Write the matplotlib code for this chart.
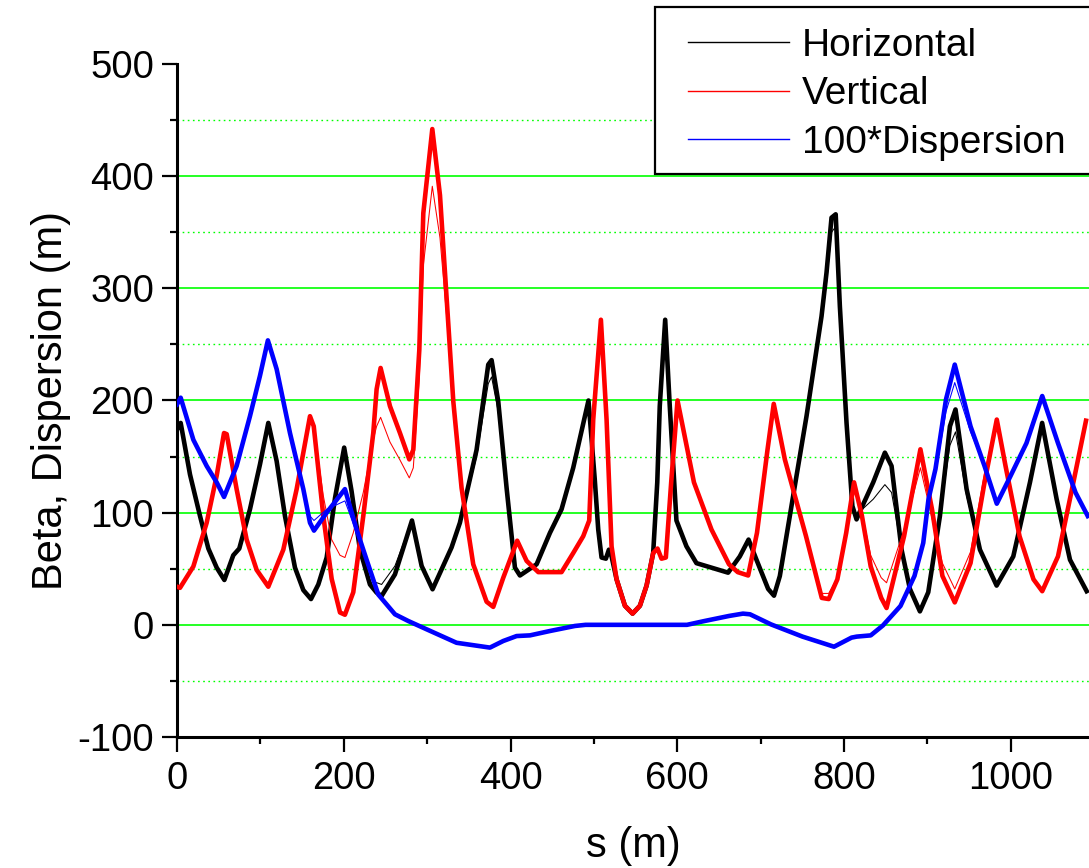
import matplotlib
matplotlib.use("Agg")
import matplotlib.pyplot as plt
from matplotlib.patches import Rectangle
from matplotlib.lines import Line2D

plt.rcParams['font.family'] = ['Liberation Sans', 'DejaVu Sans']
plt.rcParams['axes.unicode_minus'] = False

# ---------------- data ----------------
s_h = [0, 4.4, 15.6, 27.6, 37.6, 47.6, 56.8, 67.5, 74.7, 87.5, 99.5, 109.5, 119.5, 129.5,
       141.5, 151.5, 160.7, 169.5, 179.5, 189.5, 200.5, 209.4, 219.4, 231.4, 239.4, 245.4,
       261.4, 281.8, 293.4, 306.5, 329.3, 339.3, 359.3, 373.3, 377.3, 385.3, 395.3, 405.3,
       411.3, 431.3, 447.3, 461.2, 475.2, 493.5, 501, 505.2, 509.2, 514.4, 518, 521.2, 527.2,
       537.2, 546.4, 555.2, 563.2, 571.1, 576, 579, 585.5, 591, 599, 611, 623, 661, 675,
       685.5, 695, 709, 716, 723, 739, 755, 773, 779, 785, 790, 795, 803, 810, 815, 819, 835,
       849, 857, 869, 879, 891, 901, 915, 927, 933.7, 947, 963, 983, 1003, 1023, 1037.6,
       1055, 1071, 1091]
beta_x1 = [174, 180, 134, 97, 68, 51, 40, 62, 68, 103, 143, 180, 146, 97,
           51, 31, 23, 36, 60, 113, 158, 119, 67, 36, 28.7, 25.7,
           45, 93, 52.5, 31.7, 69, 91, 156, 232, 236, 199, 122, 51,
           44, 54, 82, 103, 140, 200, 130, 85, 60, 59, 67, 61, 40.6,
           17, 10, 17, 35, 64, 127, 195, 272, 195, 93, 70, 55, 46.5, 61,
           76, 58, 32, 26, 43.5, 115, 186, 275, 314, 363, 366, 284, 180, 106, 94, 101, 127,
           153.5, 141.6, 67, 32, 12, 29, 97, 177, 192, 121, 67, 35, 61, 127, 180,
           112, 58, 30]
beta_x2 = [174, 180, 134, 97, 68, 51, 40, 62, 68, 103, 143, 180, 146, 97,
           51, 31, 23, 36, 60, 113, 158, 119, 67, 38, 37.6, 36,
           52.5, 93, 52.5, 31.7, 69, 91, 150, 215, 221, 190, 122, 51,
           44, 54, 82, 103, 140, 200, 130, 85, 60, 59, 67, 61, 40.6,
           17, 10, 17, 35, 64, 127, 195, 272, 195, 93, 70, 55, 46.5, 61,
           76, 58, 32, 26, 43.5, 115, 186, 270, 305, 350, 355, 280, 180, 106, 94, 101, 112,
           125, 118, 67, 32, 12, 29, 97, 160, 172, 115, 67, 35, 61, 127, 180,
           112, 58, 30]

s_v = [0, 3.6, 19.6, 35.6, 47.6, 56.4, 59.6, 71.5, 83.5, 95.5, 109.5, 127.5, 143.5, 159.5,
       164, 175.5, 185.5, 195.5, 201.4, 211.4, 223.4, 235.4, 239.4, 244.2, 255.4, 267.4,
       278.6, 283.4, 290.6, 295.4, 306.2, 315.4, 323.4, 331.4, 341.3, 355.3, 371.3, 379.3,
       391.3, 408, 419.3, 433.3, 461.2, 475.2, 487.2, 494.4, 499.2, 508.4, 515.2, 521.2,
       527.2, 537.2, 546.4, 555.2, 563.2, 571.1, 576.3, 581.1, 586.3, 592.7, 600.3, 620,
       641, 662, 672.5, 685, 695.6, 708.2, 715.7, 729, 754.4, 773.3, 781.6, 792, 802.6, 812,
       821.5, 832, 844.6, 851, 872, 891.6, 905.5, 918, 932.8, 951.7, 968.5, 983.2, 993.7,
       1010.5, 1027.2, 1037.7, 1056.6, 1073.4, 1090.2]
beta_y1 = [34, 33, 52, 91, 133, 171, 170, 121, 76, 49, 34, 67, 121, 186,
           177, 97, 41, 11, 9, 29, 97, 171, 210, 229, 195, 171,
           147.5, 156, 245, 367, 442, 383, 291, 199, 122, 54, 20.6, 16,
           42, 75, 57, 47, 47, 64, 79, 93, 183, 272, 183, 70,
           40.6, 17, 10, 17, 35, 64, 68, 59, 60, 127, 200, 127,
           85, 54, 47, 44, 82, 156, 197, 147.5, 79, 24, 23, 40.6, 82, 127,
           97, 52, 24, 15, 79, 156.5, 103, 43.6, 20, 55, 127, 183, 141.6,
           79, 40.6, 30, 61, 121, 182]
beta_y2 = [34, 33, 52, 91, 133, 171, 170, 121, 76, 49, 37, 67, 121, 186,
           177, 115, 76, 62, 60, 82, 118, 165, 177, 185, 163, 147,
           131, 140, 220, 320, 391, 345, 275, 197, 122, 54, 20.6, 16,
           42, 75, 57, 47, 47, 64, 79, 93, 183, 272, 183, 70,
           40.6, 17, 10, 17, 35, 64, 68, 59, 60, 127, 200, 127,
           85, 54, 47, 44, 82, 156, 197, 147.5, 79, 28, 28, 42, 82, 127,
           100, 62, 42, 37.5, 85, 140, 95, 55, 32, 65, 135, 184, 141.6,
           79, 40.6, 30, 61, 121, 182]

s_d = [0, 4.4, 19.6, 35.6, 47.6, 56.4, 71.5, 87.5, 99.5, 109, 119.5, 135.5, 151.5, 159.5,
       164.3, 179.5, 201.4, 215.4, 227.4, 241.4, 261.4, 277.4, 299.4, 335.3, 375.3, 391.3,
       407.3, 423.3, 447.3, 477.3, 490, 611.6, 632.6, 662, 678.8, 687.2, 712.4, 750.2, 788,
       809, 815.2, 832, 846.7, 867.7, 884.5, 895, 901.3, 909.7, 922.3, 932.8, 951.7, 968.5,
       983.2, 997.9, 1018.8, 1037.7, 1056.6, 1077.6, 1092.3]
disp1 = [196.5, 202.5, 165, 141.6, 127, 114, 141.6, 186, 222, 253.6, 228, 171, 121, 91,
         84, 100, 121, 85, 58, 27, 9.4, 3.4, -4, -16, -20.3, -14.4,
         -10, -9.4, -5.5, -1, 0, 0, 3.4, 7.9, 10, 9.4, 0.4, -10.5, -19.5,
         -11.4, -10.5, -9.4, -0.5, 16.8, 43.6, 73, 112, 139, 201, 232, 177, 141.6,
         108, 130, 162, 204, 162, 118, 97]
disp2 = [196.5, 202.5, 165, 141.6, 127, 114, 141.6, 186, 222, 253.6, 228, 171, 121, 97,
         93, 103, 110.5, 82, 58, 27, 9.4, 3.4, -4, -16, -20.3, -14.4,
         -10, -9.4, -5.5, -1, 0, 0, 3.4, 7.9, 10, 9.4, 0.4, -10.5, -19.5,
         -11.4, -10.5, -9.4, -0.5, 16.8, 43.6, 73, 112, 135, 190, 216, 172, 141.6,
         108, 130, 162, 204, 162, 118, 97]

legend_labels = ["Horizontal", "Vertical", "100*Dispersion"]
x_major = [0, 200, 400, 600, 800, 1000]
y_major = [-100, 0, 100, 200, 300, 400, 500]
grid_major = [0, 100, 200, 300, 400]
grid_minor = [-50, 50, 150, 250, 350, 450]

# ---------------- figure ----------------
W, H = 1089, 868
fig = plt.figure(figsize=(W / 100, H / 100), dpi=100)
ax = fig.add_axes([177 / W, 131 / H, 912 / W, 673 / H])
ax.set_xlim(0, 1093.8)
ax.set_ylim(-100, 500)

green = '#00ff00'
for g in grid_major:
    ax.axhline(g, color=green, lw=1.2, zorder=0.5)
for g in grid_minor:
    ax.axhline(g, color=green, lw=1.0, ls=(0, (1.2, 2.5)), zorder=0.5)

thick = 3.3
thin = 0.75
ax.plot(s_h, beta_x2, color='black', lw=thin, zorder=2)
ax.plot(s_h, beta_x1, color='black', lw=thick, zorder=2)
ax.plot(s_v, beta_y2, color='red', lw=thin, zorder=3)
ax.plot(s_v, beta_y1, color='red', lw=thick, zorder=3)
ax.plot(s_d, disp2, color='blue', lw=thin, zorder=4)
ax.plot(s_d, disp1, color='blue', lw=thick, zorder=4)

for sp in ['top', 'right']:
    ax.spines[sp].set_visible(False)
for sp in ['left', 'bottom']:
    ax.spines[sp].set_linewidth(2.2)

ax.set_xticks(x_major)
ax.set_xticks([100, 300, 500, 700, 900], minor=True)
ax.set_yticks(y_major)
ax.set_yticks([-50, 50, 150, 250, 350, 450], minor=True)
ax.tick_params(which='major', direction='out', length=10.5, width=1.6, labelsize=27.5)
ax.tick_params(which='minor', direction='out', length=5, width=1.6)
ax.tick_params(axis='x', which='major', pad=7)
ax.tick_params(axis='y', which='major', pad=6)

ax.set_xlabel("s (m)", fontsize=30)
ax.set_ylabel("Beta, Dispersion (m)", fontsize=30)
ax.xaxis.label.set_va('baseline')
ax.xaxis.set_label_coords(0.5, -120 / 673)
ax.yaxis.set_label_coords((71 - 177) / 912, 0.5)

# legend frame (extends past the right edge of the figure)
frame = Rectangle((655 / W, (H - 174) / H), 0.5, (174 - 7) / H, transform=fig.transFigure,
                  facecolor='white', edgecolor='black', lw=1.6, zorder=10)
fig.add_artist(frame)
handles = [Line2D([], [], color=c, lw=1.0) for c in ['black', 'red', 'blue']]
leg = fig.legend(handles, legend_labels, loc='upper left',
                 bbox_to_anchor=(688 / W, 1 - 28 / H), frameon=False, fontsize=28,
                 borderpad=0, borderaxespad=0, labelspacing=0.32, handlelength=2.6,
                 handletextpad=0.33)
leg.set_zorder(11)

fig.savefig("out.png", dpi=100)
